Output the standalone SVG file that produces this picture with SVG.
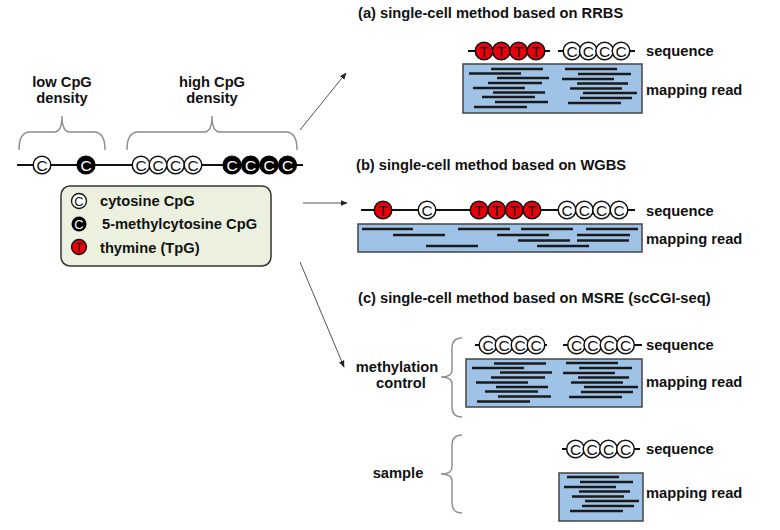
<svg xmlns="http://www.w3.org/2000/svg" xmlns:xlink="http://www.w3.org/1999/xlink" width="780" height="530" viewBox="0 0 780 530">
<style>
.t{font-family:"Liberation Sans",Arial,sans-serif;font-weight:bold;font-size:14.7px;fill:#111}
.ct{font-family:"Liberation Sans",Arial,sans-serif;font-size:15.5px;text-anchor:middle}
.lct{font-family:"Liberation Sans",Arial,sans-serif;font-size:13px;text-anchor:middle}
.chain{stroke:#111;stroke-width:2;fill:none}
.brace{stroke:#8c8c8c;stroke-width:1.4;fill:none}
.box{fill:#9fc3e6;stroke:#444;stroke-width:1.5}
.rd{stroke:#1a1a1a;stroke-width:2.5}
.arr{stroke:#555;stroke-width:1;fill:none;marker-end:url(#ah)}
</style>
<defs>
<marker id="ah" viewBox="0 0 10 10" refX="9" refY="5" markerWidth="7" markerHeight="7" orient="auto" markerUnits="userSpaceOnUse">
<path d="M0,1 L10,5 L0,9 Z" fill="#222"/>
</marker>
<g id="cw"><circle r="8.8" fill="#fff" stroke="#111" stroke-width="1.5"/><text class="ct" y="5.5" fill="#111">C</text></g>
<g id="cb"><circle r="9" fill="#000" stroke="#000" stroke-width="1.2"/><text class="ct" y="5.5" fill="#fff">C</text></g>
<g id="tr"><circle r="8.8" fill="#e8000b" stroke="#111" stroke-width="1.5"/><text class="ct" y="5.5" fill="#111">T</text></g>
<g id="lcw"><circle r="7.5" fill="#fff" stroke="#111" stroke-width="1.3"/><text class="lct" y="4.7" fill="#111">C</text></g>
<g id="lcb"><circle r="7.5" fill="#000"/><text class="lct" y="4.7" fill="#fff">C</text></g>
<g id="ltr"><circle r="7.5" fill="#e8000b" stroke="#111" stroke-width="1.3"/><text class="lct" y="4.7" fill="#111">T</text></g>
<g id="readsL">
<line class="rd" x1="28" y1="5" x2="80" y2="5"/>
<line class="rd" x1="6" y1="9.5" x2="58" y2="9.5"/>
<line class="rd" x1="34" y1="14" x2="86" y2="14"/>
<line class="rd" x1="25" y1="19" x2="79" y2="19"/>
<line class="rd" x1="10" y1="24" x2="62" y2="24"/>
<line class="rd" x1="30" y1="28.5" x2="82" y2="28.5"/>
<line class="rd" x1="19" y1="33" x2="72" y2="33"/>
<line class="rd" x1="32" y1="38" x2="85" y2="38"/>
<line class="rd" x1="11" y1="43" x2="64" y2="43"/>
</g>
<g id="readsR">
<line class="rd" x1="2" y1="4" x2="54" y2="4"/>
<line class="rd" x1="15" y1="9" x2="68" y2="9"/>
<line class="rd" x1="-1" y1="14" x2="51" y2="14"/>
<line class="rd" x1="14" y1="18.5" x2="65" y2="18.5"/>
<line class="rd" x1="7" y1="23.5" x2="59" y2="23.5"/>
<line class="rd" x1="20" y1="28" x2="74" y2="28"/>
<line class="rd" x1="17" y1="33" x2="69" y2="33"/>
<line class="rd" x1="5" y1="38" x2="58" y2="38"/>
</g>
</defs>
<rect width="780" height="530" fill="#fff"/>

<g id="density-labels">
<text class="t" x="62" y="87" text-anchor="middle">low CpG</text>
<text class="t" x="62" y="103" text-anchor="middle">density</text>
<text class="t" x="212" y="87" text-anchor="middle">high CpG</text>
<text class="t" x="212" y="103" text-anchor="middle">density</text>
<path class="brace" d="M19,150 Q19,132 30,132 L54,132 Q62,132 62,116 Q62,132 70,132 L94,132 Q105,132 105,150"/>
<path class="brace" d="M127,150 Q127,132 138,132 L204,132 Q212,132 212,116 Q212,132 220,132 L286,132 Q297,132 297,150"/>
</g>

<g id="genome-chain">
<line class="chain" x1="17" y1="165" x2="303" y2="165"/>
<use xlink:href="#cw" x="42" y="165"/>
<use xlink:href="#cb" x="86" y="165"/>
<use xlink:href="#cw" x="141" y="165"/>
<use xlink:href="#cw" x="158" y="165"/>
<use xlink:href="#cw" x="175.5" y="165"/>
<use xlink:href="#cw" x="193" y="165"/>
<use xlink:href="#cb" x="232" y="165"/>
<use xlink:href="#cb" x="250.5" y="165"/>
<use xlink:href="#cb" x="269" y="165"/>
<use xlink:href="#cb" x="287.5" y="165"/>
</g>

<g id="legend">
<rect x="61" y="186" width="210" height="80" rx="9" fill="#ebf1de" stroke="#333" stroke-width="1.5"/>
<use xlink:href="#lcw" x="79" y="201"/>
<use xlink:href="#lcb" x="79" y="224"/>
<use xlink:href="#ltr" x="79" y="247"/>
<text class="t" x="100" y="206">cytosine CpG</text>
<text class="t" x="102" y="229">5-methylcytosine CpG</text>
<text class="t" x="100" y="253">thymine (TpG)</text>
</g>

<g id="connectors">
<line class="arr" x1="300" y1="130" x2="346" y2="73"/>
<line class="arr" x1="303" y1="203" x2="347" y2="203"/>
<line class="arr" x1="300" y1="262" x2="344" y2="367"/>
</g>

<g id="rrbs">
<text class="t" x="358" y="18">(a) single-cell method based on RRBS</text>
<line class="chain" x1="468" y1="51" x2="550" y2="51"/>
<line class="chain" x1="558" y1="51" x2="635" y2="51"/>
<use xlink:href="#tr" x="484" y="51"/>
<use xlink:href="#tr" x="501.3" y="51"/>
<use xlink:href="#tr" x="518.6" y="51"/>
<use xlink:href="#tr" x="536" y="51"/>
<use xlink:href="#cw" x="572" y="51"/>
<use xlink:href="#cw" x="588.3" y="51"/>
<use xlink:href="#cw" x="604.6" y="51"/>
<use xlink:href="#cw" x="621" y="51"/>
<rect class="box" x="463" y="64" width="179" height="49"/>
<use xlink:href="#readsL" x="463" y="64"/>
<use xlink:href="#readsR" x="563" y="65"/>
<text class="t" x="646" y="56">sequence</text>
<text class="t" x="646" y="95">mapping read</text>
</g>

<g id="wgbs">
<text class="t" x="356" y="170">(b) single-cell method based on WGBS</text>
<line class="chain" x1="361" y1="210" x2="635" y2="210"/>
<use xlink:href="#tr" x="383" y="210"/>
<use xlink:href="#cw" x="427" y="210"/>
<use xlink:href="#tr" x="479" y="210"/>
<use xlink:href="#tr" x="496.7" y="210"/>
<use xlink:href="#tr" x="514.3" y="210"/>
<use xlink:href="#tr" x="532" y="210"/>
<use xlink:href="#cw" x="567" y="210"/>
<use xlink:href="#cw" x="584.3" y="210"/>
<use xlink:href="#cw" x="601.6" y="210"/>
<use xlink:href="#cw" x="619" y="210"/>
<rect class="box" x="358" y="224" width="284" height="28"/>
<line class="rd" x1="362" y1="229" x2="413" y2="229"/>
<line class="rd" x1="458" y1="229" x2="510" y2="229"/>
<line class="rd" x1="521" y1="229" x2="573" y2="229"/>
<line class="rd" x1="586" y1="229" x2="638" y2="229"/>
<line class="rd" x1="393" y1="235" x2="445" y2="235"/>
<line class="rd" x1="497" y1="235" x2="549" y2="235"/>
<line class="rd" x1="577" y1="235" x2="630" y2="235"/>
<line class="rd" x1="518" y1="240.5" x2="570" y2="240.5"/>
<line class="rd" x1="577" y1="240.5" x2="629" y2="240.5"/>
<line class="rd" x1="426" y1="246" x2="478" y2="246"/>
<line class="rd" x1="537" y1="246" x2="589" y2="246"/>
<text class="t" x="646" y="216">sequence</text>
<text class="t" x="646" y="244">mapping read</text>
</g>

<g id="msre">
<text class="t" x="358" y="303">(c) single-cell method based on MSRE (scCGI-seq)</text>
</g>

<g id="methylation-control">
<text class="t" x="397" y="372" text-anchor="middle">methylation</text>
<text class="t" x="401" y="388" text-anchor="middle">control</text>
<path class="brace" d="M462,338 Q452,338 452,348 L452,370 Q452,377 441,377 Q452,377 452,384 L452,407 Q452,417 462,417"/>
<line class="chain" x1="475" y1="345" x2="547" y2="345"/>
<line class="chain" x1="563" y1="345" x2="642" y2="345"/>
<use xlink:href="#cw" x="488" y="345"/>
<use xlink:href="#cw" x="504" y="345"/>
<use xlink:href="#cw" x="520" y="345"/>
<use xlink:href="#cw" x="536" y="345"/>
<use xlink:href="#cw" x="576.5" y="345"/>
<use xlink:href="#cw" x="592.8" y="345"/>
<use xlink:href="#cw" x="609" y="345"/>
<use xlink:href="#cw" x="625.5" y="345"/>
<rect class="box" x="466" y="359" width="176" height="48"/>
<use xlink:href="#readsL" x="466" y="358.5"/>
<use xlink:href="#readsR" x="564" y="359"/>
<text class="t" x="646" y="350">sequence</text>
<text class="t" x="646" y="387">mapping read</text>
</g>

<g id="sample">
<text class="t" x="398" y="478" text-anchor="middle">sample</text>
<path class="brace" d="M462,435 Q452,435 452,445 L452,467 Q452,474 441,474 Q452,474 452,481 L452,503 Q452,513 462,513"/>
<line class="chain" x1="562" y1="449" x2="640" y2="449"/>
<use xlink:href="#cw" x="575.5" y="449"/>
<use xlink:href="#cw" x="592" y="449"/>
<use xlink:href="#cw" x="608.5" y="449"/>
<use xlink:href="#cw" x="625.5" y="449"/>
<rect class="box" x="559" y="473" width="84" height="48"/>
<use xlink:href="#readsR" x="565" y="473"/>
<text class="t" x="646" y="454">sequence</text>
<text class="t" x="646" y="498">mapping read</text>
</g>
</svg>
